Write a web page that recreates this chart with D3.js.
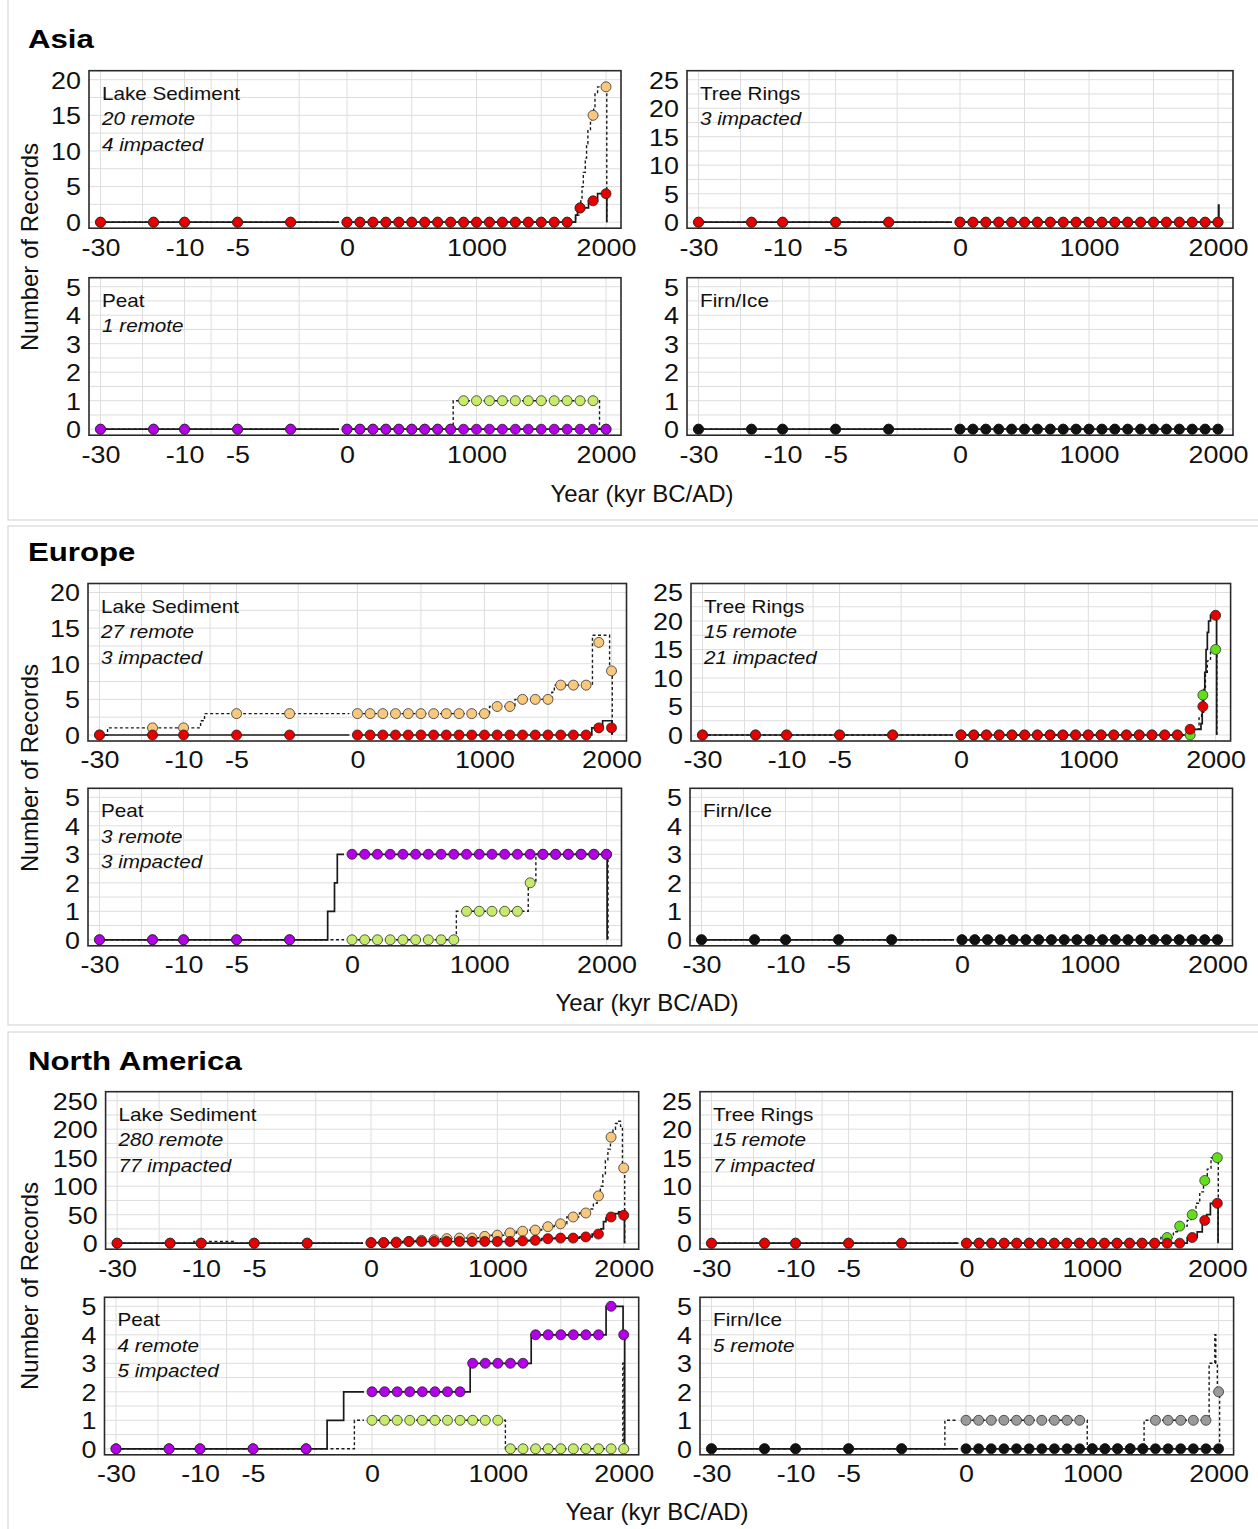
<!DOCTYPE html>
<html>
<head>
<meta charset="utf-8">
<script src="https://d3js.org/d3.v7.min.js"></script>
<style>
html,body{margin:0;padding:0;background:#fff;}
svg{display:block;}
text{font-family:"Liberation Sans",Arial,Helvetica,sans-serif;}
</style>
</head>
<body>
<svg id="chart" width="1258" height="1529"></svg>
<script>
// ================= DATA =================
const regions = ["Asia", "Europe", "North America"];
const archives = ["Lake Sediment", "Tree Rings", "Peat", "Firn/Ice"];
const yAxisTitle = "Number of Records";
const xAxisTitle = "Year (kyr BC/AD)";

// sample positions: kyr BC (left, log segment) then years AD (right, linear segment)
const kyrBC = [-30, -15, -10, -5, -2.5];
const yearsAD = [0, 100, 200, 300, 400, 500, 600, 700, 800, 900, 1000, 1100, 1200, 1300, 1400, 1500, 1600, 1700, 1800, 1900, 2000];
const xTicksKyr = [30, 10, 5];
const xTicksAD = [0, 1000, 2000];

// y tick maxima / steps per region [lake, tree, peat, firn]
const yMaxTicks = [[20, 25, 5, 5], [20, 25, 5, 5], [250, 25, 5, 5]];
const yTickSteps = [[5, 5, 1, 1], [5, 5, 1, 1], [50, 5, 1, 1]];

// panel notes
const asiaNotes = [["20 remote", "4 impacted"], ["3 impacted"], ["1 remote"], []];
const europeNotes = [["27 remote", "3 impacted"], ["15 remote", "21 impacted"], ["3 remote", "3 impacted"], []];
const naNotes = [["280 remote", "77 impacted"], ["15 remote", "7 impacted"], ["4 remote", "5 impacted"], ["5 remote"]];

// ---- marker values: 5 kyr BC samples | 21 century samples (0..2000 AD)
const asiaLakeRemote     = [0,0,0,0,0,  0,0,0,0,0,0,0,0,0,0, 0,0,0,0,0,0,0,0,2,15, 19];
const asiaLakeImpacted   = [0,0,0,0,0,  0,0,0,0,0,0,0,0,0,0, 0,0,0,0,0,0,0,0,2,3, 4];
const asiaTreeRemote     = [0,0,0,0,0,  0,0,0,0,0,0,0,0,0,0, 0,0,0,0,0,0,0,0,0,0, 0];
const asiaTreeImpacted   = [0,0,0,0,0,  0,0,0,0,0,0,0,0,0,0, 0,0,0,0,0,0,0,0,0,0, 0];
const asiaPeatRemote     = [0,0,0,0,0,  0,0,0,0,0,0,0,0,0,1, 1,1,1,1,1,1,1,1,1,1, 0];
const asiaPeatImpacted   = [0,0,0,0,0,  0,0,0,0,0,0,0,0,0,0, 0,0,0,0,0,0,0,0,0,0, 0];
const asiaFirnRemote     = [0,0,0,0,0,  0,0,0,0,0,0,0,0,0,0, 0,0,0,0,0,0,0,0,0,0, 0];
const asiaFirnImpacted   = [0,0,0,0,0,  0,0,0,0,0,0,0,0,0,0, 0,0,0,0,0,0,0,0,0,0, 0];

const europeLakeRemote   = [0,1,1,3,3,  3,3,3,3,3,3,3,3,3,3, 3,4,4,5,5,5,7,7,7,13, 9];
const europeLakeImpacted = [0,0,0,0,0,  0,0,0,0,0,0,0,0,0,0, 0,0,0,0,0,0,0,0,0,1, 1];
const europeTreeRemote   = [0,0,0,0,0,  0,0,0,0,0,0,0,0,0,0, 0,0,0,0,0,0,0,0,0,7, 15];
const europeTreeImpacted = [0,0,0,0,0,  0,0,0,0,0,0,0,0,0,0, 0,0,0,0,0,0,0,0,1,5, 21];
const europePeatRemote   = [0,0,0,0,0,  0,0,0,0,0,0,0,0,0,1, 1,1,1,1,2,3,3,3,3,3, 3];
const europePeatImpacted = [0,0,0,0,0,  3,3,3,3,3,3,3,3,3,3, 3,3,3,3,3,3,3,3,3,3, 3];
const europeFirnRemote   = [0,0,0,0,0,  0,0,0,0,0,0,0,0,0,0, 0,0,0,0,0,0,0,0,0,0, 0];
const europeFirnImpacted = [0,0,0,0,0,  0,0,0,0,0,0,0,0,0,0, 0,0,0,0,0,0,0,0,0,0, 0];

const naLakeRemote       = [0,0,0,0,0,  1,1,2,3,5,6,8,9,9,12, 14,18,21,23,29,34,46,53,83,186, 132];
const naLakeImpacted     = [0,0,0,0,0,  1,1,1,3,3,3,3,3,3,3, 3,3,4,5,8,9,9,11,16,46, 49];
const naTreeRemote       = [0,0,0,0,0,  0,0,0,0,0,0,0,0,0,0, 0,0,0,0,0,0,1,3,5,11, 15];
const naTreeImpacted     = [0,0,0,0,0,  0,0,0,0,0,0,0,0,0,0, 0,0,0,0,0,0,0,0,1,4, 7];
const naPeatRemote       = [0,0,0,0,0,  1,1,1,1,1,1,1,1,1,1, 1,0,0,0,0,0,0,0,0,0, 0];
const naPeatImpacted     = [0,0,0,0,0,  2,2,2,2,2,2,2,2,3,3, 3,3,3,4,4,4,4,4,4,5, 4];
const naFirnRemote       = [0,0,0,0,0,  1,1,1,1,1,1,1,1,1,1, 0,0,0,0,0,1,1,1,1,1, 2];
const naFirnImpacted     = [0,0,0,0,0,  0,0,0,0,0,0,0,0,0,0, 0,0,0,0,0,0,0,0,0,0, 0];

// ---- fine-resolution step lines: [x, count]; x < 0 in kyr BC, x >= 0 in years AD
const asiaLakeRemoteLine   = [[-30,0],[0,0],[1765,1],[1790,2],[1805,3],[1815,5],[1825,7],[1840,9],[1850,11],[1860,13],[1880,14],[1890,15],[1905,16],[1915,18],[1935,19],[2006,0]];
const asiaLakeImpactedLine = [[-30,0],[0,0],[1765,1],[1780,2],[1865,3],[1935,4],[2006,0]];
const asiaTreeRemoteLine   = [[-30,0],[0,0],[2000,0]];
const asiaTreeImpactedLine = [[-30,0],[0,0],[2004,3],[2007,0]];
const asiaPeatRemoteLine   = [[-30,0],[0,0],[820,1],[1950,0],[2000,0]];
const asiaPeatImpactedLine = [[-30,0],[0,0],[2000,0]];
const asiaFirnRemoteLine   = [[-30,0],[0,0],[2000,0]];
const asiaFirnImpactedLine = [[-30,0],[0,0],[2000,0]];

const europeLakeRemoteLine   = [[-30,0],[-27,1],[-8,2],[-7.6,3],[0,3],[1040,4],[1240,5],[1530,6],[1550,7],[1850,14],[1985,9],[2006,0]];
const europeLakeImpactedLine = [[-30,0],[0,0],[1845,1],[1930,2],[2004,0]];
const europeTreeRemoteLine   = [[-30,0],[0,0],[1830,1],[1870,3],[1890,6],[1905,8],[1920,11],[1935,13],[1960,15],[2010,0]];
const europeTreeImpactedLine = [[-30,0],[0,0],[1795,1],[1885,2],[1895,4],[1905,7],[1915,11],[1925,15],[1935,18],[1945,20],[1960,21],[2008,0]];
const europePeatRemoteLine   = [[-30,0],[0,0],[820,1],[1385,2],[1445,3],[2012,0]];
const europePeatImpactedLine = [[-30,0],[-1.52,1],[-1.39,2],[-1.34,3],[0,3],[2005,0]];
const europeFirnRemoteLine   = [[-30,0],[0,0],[2000,0]];
const europeFirnImpactedLine = [[-30,0],[0,0],[2000,0]];

const naLakeRemoteLine   = [[-30,0],[-11,3],[-6.5,0],[0,1],[150,2],[250,3],[350,5],[450,6],[550,8],[650,9],[850,12],[950,14],[1050,18],[1150,21],[1250,23],[1350,29],[1450,34],[1550,46],[1650,53],[1720,60],[1760,70],[1790,83],[1815,100],[1835,120],[1855,145],[1875,165],[1895,186],[1915,200],[1935,210],[1955,214],[1975,205],[1990,132],[2008,0]];
const naLakeImpactedLine = [[-30,0],[0,1],[250,3],[1150,4],[1250,5],[1350,8],[1450,9],[1650,11],[1750,16],[1820,25],[1840,38],[1860,44],[1880,46],[1930,52],[1960,55],[2006,0]];
const naTreeRemoteLine   = [[-30,0],[0,0],[1550,1],[1650,2],[1690,3],[1760,4],[1790,5],[1830,7],[1860,9],[1890,11],[1920,13],[1950,15],[2008,0]];
const naTreeImpactedLine = [[-30,0],[0,0],[1760,1],[1840,2],[1880,4],[1915,5],[1945,7],[2006,0]];
const naPeatRemoteLine   = [[-30,0],[-1.33,1],[0,1],[1060,0],[1993,3],[2003,0]];
const naPeatImpactedLine = [[-30,0],[-1.9,1],[-1.53,2],[0,2],[780,3],[1265,4],[1860,5],[1995,4],[2008,0]];
const naFirnRemoteLine   = [[-30,0],[-1.42,1],[0,1],[960,0],[1410,1],[1925,3],[1970,4],[1978,3],[1990,2],[2008,0]];
const naFirnImpactedLine = [[-30,0],[0,0],[2000,0]];

// colours per archive [lake, tree, peat, firn]
const remoteColors   = ["#f8c87c", "#62df1c", "#c6ea69", "#9a9a9a"];
const impactedColors = ["#e60000", "#e60000", "#b300e8", "#111111"];

// ================= LAYOUT =================
const W = 1258, H = 1529;
const FRAME_H = 157.5;
const LOGW = 190.1;          // px from 30 kyr to 2.5 kyr on the log segment
const SX_TICK = 1.12, SX_NOTE = 1.15, SX_TITLE = 1.2;
const sectionBoxes = [[8, -2, 1262, 520], [8, 526, 1262, 1025], [8, 1032, 1262, 1533]];
const titleBaselines = [48, 561, 1070];
const yTitleCenters = [247, 768, 1286];
const xTitlePos = [[642, 494], [647, 1003], [657, 1512]];
const rowTops = [[70.7, 277.7], [583.5, 788.3], [1091.7, 1297.3]];
const colFrames = [
  [[89, 621, 347], [687, 1233, 960], [89, 621, 347], [687, 1233, 960]],
  [[88, 626.5, 357.4], [691, 1230.6, 961], [88, 621.5, 352], [690, 1232.5, 962]],
  [[105.6, 638.7, 371], [700, 1232.3, 966.5], [104.5, 638.7, 372], [700, 1233.6, 966]]
];
const GRID = "#dedede";

// assemble panel specs from the named arrays
const notes = [asiaNotes, europeNotes, naNotes];
const seriesTable = [
  [[asiaLakeRemote, asiaLakeImpacted, asiaLakeRemoteLine, asiaLakeImpactedLine],
   [asiaTreeRemote, asiaTreeImpacted, asiaTreeRemoteLine, asiaTreeImpactedLine],
   [asiaPeatRemote, asiaPeatImpacted, asiaPeatRemoteLine, asiaPeatImpactedLine],
   [asiaFirnRemote, asiaFirnImpacted, asiaFirnRemoteLine, asiaFirnImpactedLine]],
  [[europeLakeRemote, europeLakeImpacted, europeLakeRemoteLine, europeLakeImpactedLine],
   [europeTreeRemote, europeTreeImpacted, europeTreeRemoteLine, europeTreeImpactedLine],
   [europePeatRemote, europePeatImpacted, europePeatRemoteLine, europePeatImpactedLine],
   [europeFirnRemote, europeFirnImpacted, europeFirnRemoteLine, europeFirnImpactedLine]],
  [[naLakeRemote, naLakeImpacted, naLakeRemoteLine, naLakeImpactedLine],
   [naTreeRemote, naTreeImpacted, naTreeRemoteLine, naTreeImpactedLine],
   [naPeatRemote, naPeatImpacted, naPeatRemoteLine, naPeatImpactedLine],
   [naFirnRemote, naFirnImpacted, naFirnRemoteLine, naFirnImpactedLine]]
];

const svg = d3.select("#chart");
svg.append("rect").attr("width", W).attr("height", H).attr("fill", "#fff");

// section boxes
svg.selectAll(".box").data(sectionBoxes).join("rect")
  .attr("x", d => d[0]).attr("y", d => d[1])
  .attr("width", d => d[2] - d[0]).attr("height", d => d[3] - d[1])
  .attr("fill", "none").attr("stroke", "#cfcfcf").attr("stroke-width", 1);

const samplePositions = kyrBC.concat(yearsAD);

function drawPanel(r, i) {
  const [x0, x1, z] = colFrames[r][i];
  const top = rowTops[r][i < 2 ? 0 : 1];
  const bottom = top + FRAME_H;
  const yMax = yMaxTicks[r][i], yStep = yTickSteps[r][i];
  const [remote, impacted, remoteLine, impactedLine] = seriesTable[r][i];

  const left = d3.scaleLog().domain([30, 2.5]).range([x0 + 11.5, x0 + 11.5 + LOGW]);
  const right = d3.scaleLinear().domain([0, 2000]).range([z, x1 - 15]);
  const X = v => (v < 0 ? left(-v) : right(v));
  const leftEnd = -left.invert(z - 8);
  const Y = d3.scaleLinear().domain([0, yMax]).range([top + 151.5, top + 9]);

  const g = svg.append("g");

  // grid
  const hGrid = d3.range(0, Y.invert(top), yStep / 2);
  g.selectAll(".hg").data(hGrid).join("line")
    .attr("x1", x0).attr("x2", x1).attr("y1", d => Y(d)).attr("y2", d => Y(d))
    .attr("stroke", GRID).attr("stroke-width", 1);
  const vGrid = [-30, -17.32, -10, -7.07, -5, -2.236, 0, 500, 1000, 1500, 2000];
  g.selectAll(".vg").data(vGrid).join("line")
    .attr("x1", d => X(d)).attr("x2", d => X(d)).attr("y1", top).attr("y2", bottom)
    .attr("stroke", GRID).attr("stroke-width", 1);

  // lines
  const lineGen = d3.line().x(d => X(d[0])).y(d => Y(d[1])).curve(d3.curveStepAfter);
  function drawLine(pts, dashed) {
    const L = pts.filter(p => p[0] < 0);
    const R = pts.filter(p => p[0] >= 0);
    const Lfull = L.concat([[leftEnd, L[L.length - 1][1]]]);
    [Lfull, R].forEach(seg => {
      g.append("path").datum(seg).attr("d", lineGen)
        .attr("fill", "none").attr("stroke", "#1a1a1a")
        .attr("stroke-width", dashed ? 1.4 : 1.7)
        .attr("stroke-dasharray", dashed ? "3,2.5" : null);
    });
  }
  drawLine(remoteLine, true);
  drawLine(impactedLine, false);

  // markers (remote below, impacted on top)
  const drawMarkers = (vals, color, outline) => {
    g.append("g").selectAll("circle").data(samplePositions.map((x, k) => [x, vals[k]])).join("circle")
      .attr("cx", d => X(d[0])).attr("cy", d => Y(d[1])).attr("r", 5)
      .attr("fill", color).attr("stroke", outline).attr("stroke-width", 0.8);
  };
  drawMarkers(remote, remoteColors[i], "#333");
  drawMarkers(impacted, impactedColors[i], i === 3 ? "#111" : "#222");

  // frame
  g.append("rect").attr("x", x0).attr("y", top).attr("width", x1 - x0).attr("height", FRAME_H)
    .attr("fill", "none").attr("stroke", "#2a2a2a").attr("stroke-width", 1.6);

  // y axis
  const ya = g.append("g").attr("transform", `translate(${x0},0)`)
    .call(d3.axisLeft(Y).tickValues(d3.range(0, yMax + 0.001, yStep)).tickFormat(d3.format("d")).tickSize(0).tickPadding(0));
  ya.select(".domain").remove();
  ya.attr("font-size", 24).attr("font-family", '"Liberation Sans",Arial,sans-serif').attr("color", "#111");
  ya.selectAll("text").attr("x", -8 / SX_TICK).attr("dy", "0.35em")
    .attr("transform", `scale(${SX_TICK},1)`);

  // x axes (two segments)
  const styleX = sel => {
    sel.select(".domain").remove();
    sel.attr("font-size", 24).attr("font-family", '"Liberation Sans",Arial,sans-serif').attr("color", "#111");
    sel.selectAll("text").attr("y", 19).attr("dy", "0.35em").attr("transform", `scale(${SX_TICK},1)`);
  };
  g.append("g").attr("transform", `translate(0,${bottom})`)
    .call(d3.axisBottom(left).tickValues(xTicksKyr).tickFormat(d => "-" + d).tickSize(0)).call(styleX);
  g.append("g").attr("transform", `translate(0,${bottom})`)
    .call(d3.axisBottom(right).tickValues(xTicksAD).tickFormat(d3.format("d")).tickSize(0)).call(styleX);

  // annotation
  g.append("text").attr("transform", `translate(${x0 + 13},${top + 29}) scale(${SX_NOTE},1)`)
    .attr("font-size", 18).attr("fill", "#111").text(archives[i]);
  notes[r][i].forEach((t, k) => {
    g.append("text").attr("transform", `translate(${x0 + 13},${top + 54.5 + 25.5 * k}) scale(${SX_NOTE},1)`)
      .attr("font-size", 18).attr("font-style", "italic").attr("fill", "#111").text(t);
  });
}

regions.forEach((name, r) => {
  svg.append("text").attr("transform", `translate(28,${titleBaselines[r]}) scale(${SX_TITLE},1)`)
    .attr("font-size", 26).attr("font-weight", "bold").attr("fill", "#000").text(name);
  svg.append("text").attr("transform", `translate(30,${yTitleCenters[r]}) rotate(-90)`)
    .attr("text-anchor", "middle").attr("dy", "0.35em").attr("font-size", 24).attr("fill", "#111").text(yAxisTitle);
  svg.append("text").attr("x", xTitlePos[r][0]).attr("y", xTitlePos[r][1]).attr("dy", "0.35em")
    .attr("text-anchor", "middle").attr("font-size", 24).attr("fill", "#111").text(xAxisTitle);
  for (let i = 0; i < 4; i++) drawPanel(r, i);
});
</script>
</body>
</html>
